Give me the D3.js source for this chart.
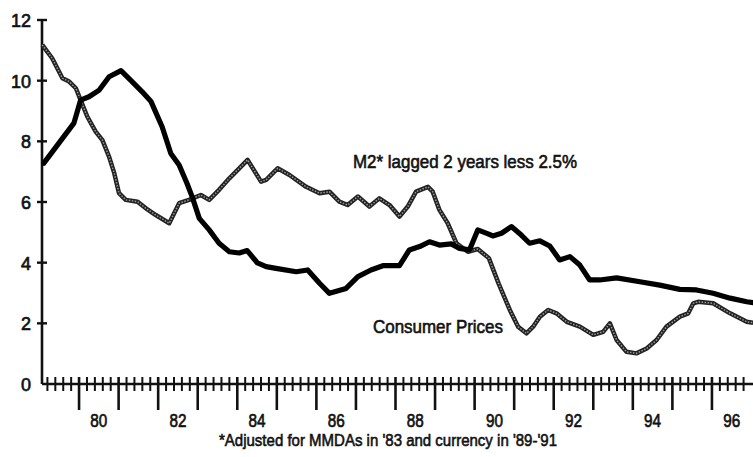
<!DOCTYPE html>
<html>
<head>
<meta charset="utf-8">
<script src="https://cdn.jsdelivr.net/npm/d3@7/dist/d3.min.js"></script>
<style>
body { margin:0; background:#fff; }
text { font-family:"Liberation Sans Narrow","Arial Narrow","Liberation Sans",sans-serif; fill:#111; }
</style>
</head>
<body>
<div id="chart"></div>
<script>
// values (decimal year, percent)
var cpiYears = [1979.11,1979.87,1980.04,1980.25,1980.51,1980.76,1981.06,1981.34,1981.59,1981.82,
    1982.10,1982.32,1982.53,1982.73,1982.86,1983.04,1983.29,1983.54,1983.80,1984.05,1984.25,1984.51,
    1984.73,1984.98,1985.49,1985.78,1986.08,1986.33,1986.75,1987.05,1987.38,1987.68,1988.10,1988.35,
    1988.61,1988.86,1989.11,1989.41,1989.62,1989.87,1990.08,1990.34,1990.46,1990.68,1990.93,1991.18,
    1991.39,1991.65,1991.90,1992.15,1992.41,1992.66,1992.91,1993.16,1993.59,1994.18,1994.68,1995.19,
    1995.61,1996.03,1996.46,1996.88,1997.04];
var cpiValues = [7.28,8.6,9.36,9.47,9.69,10.13,10.33,9.97,9.64,9.31,
    8.48,7.6,7.22,6.61,6.17,5.46,5.08,4.64,4.36,4.32,4.4,3.99,
    3.87,3.81,3.7,3.76,3.32,2.99,3.15,3.54,3.76,3.9,3.9,4.42,
    4.53,4.69,4.58,4.62,4.47,4.42,5.08,4.95,4.88,4.97,5.19,4.91,
    4.64,4.72,4.55,4.09,4.2,3.92,3.43,3.43,3.5,3.37,3.26,3.12,
    3.1,2.99,2.83,2.71,2.68];

var m2Years = [1979.07,1979.32,1979.58,1979.75,1979.92,1980.04,1980.21,1980.42,1980.59,1980.76,
    1980.89,1981.01,1981.18,1981.48,1981.69,1981.94,1982.28,1982.53,1982.78,1983.08,1983.29,1983.54,
    1983.80,1984.05,1984.26,1984.60,1984.73,1985.02,1985.32,1985.74,1986.08,1986.33,1986.58,1986.79,
    1987.05,1987.34,1987.59,1987.85,1988.10,1988.31,1988.52,1988.82,1988.94,1989.11,1989.32,1989.54,
    1989.83,1990.08,1990.36,1990.61,1990.89,1991.10,1991.31,1991.48,1991.65,1991.86,1992.07,1992.33,
    1992.66,1993.00,1993.25,1993.42,1993.59,1993.84,1994.09,1994.35,1994.60,1994.85,1995.19,1995.40,
    1995.53,1995.65,1996.03,1996.46,1996.88,1997.04];
var m2Values = [11.18,10.74,10.08,9.97,9.75,9.36,8.81,8.32,8.04,7.49,
    6.95,6.29,6.07,6.01,5.79,5.57,5.3,5.96,6.07,6.23,6.07,6.4,
    6.78,7.11,7.39,6.67,6.73,7.11,6.89,6.5,6.29,6.34,6.01,5.9,
    6.18,5.85,6.12,5.9,5.52,5.85,6.34,6.5,6.34,5.74,5.3,4.64,
    4.36,4.45,4.15,3.3,2.44,1.89,1.67,1.89,2.22,2.44,2.33,2.05,
    1.89,1.62,1.72,2.0,1.45,1.06,1.01,1.17,1.45,1.89,2.22,2.33,
    2.66,2.71,2.66,2.33,2.05,2.02];

var yTicks = [0,2,4,6,8,10,12];
var yearTicks = d3.range(1980, 1997);
var yearLabels = ['80','82','84','86','88','90','92','94','96'];

var W = 753, H = 457;
var svg = d3.select('#chart').append('svg').attr('width',W).attr('height',H);

var x = d3.scaleLinear().domain([1979,1997]).range([39.5,751.5]);
var y = d3.scaleLinear().domain([0,12]).range([384,20]);
var x0 = 42;

// y axis
svg.append('line').attr('x1',x0).attr('x2',x0).attr('y1',y(12)-1).attr('y2',y(0))
    .style('stroke','#111').style('stroke-width',2.6);
svg.selectAll('.yt').data(yTicks.filter(d=>d>0)).enter().append('line')
    .attr('x1',x0-5).attr('x2',x0+5).attr('y1',d=>y(d)).attr('y2',d=>y(d))
    .style('stroke','#111').style('stroke-width',2.4);
svg.selectAll('.yl').data(yTicks).enter().append('text')
    .attr('x',31).attr('y',d=>y(d)+7).attr('text-anchor','end')
    .attr('textLength',d=>String(d).length*10).attr('lengthAdjust','spacingAndGlyphs')
    .style('font-size','19px').style('stroke','#111').style('stroke-width',0.7)
    .text(d=>d);

// x axis
svg.append('line').attr('x1',x0).attr('x2',W).attr('y1',y(0)).attr('y2',y(0))
    .style('stroke','#111').style('stroke-width',2.6);
var minor = d3.range(1979.2, 1997.01, 0.2).filter(d=>Math.abs(d-Math.round(d))>0.05 && x(d)>x0+2);
svg.selectAll('.xm').data(minor).enter().append('line')
    .attr('x1',d=>x(d)).attr('x2',d=>x(d)).attr('y1',y(0)-7).attr('y2',y(0)+7)
    .style('stroke','#111').style('stroke-width',2);
svg.selectAll('.xM').data(yearTicks).enter().append('line')
    .attr('x1',d=>x(d)).attr('x2',d=>x(d)).attr('y1',y(0)-7).attr('y2',y(0)+26)
    .style('stroke','#111').style('stroke-width',2.6);
svg.selectAll('.xl').data(yearLabels).enter().append('text')
    .attr('x',d=>x(1900+(+d)+0.5)).attr('y',427).attr('text-anchor','middle')
    .attr('textLength',17).attr('lengthAdjust','spacingAndGlyphs')
    .style('font-size','19px').style('stroke','#111').style('stroke-width',0.7)
    .text(d=>d);

// lines
var line = d3.line().x(d=>x(d[0])).y(d=>y(d[1])).curve(d3.curveLinear);
var m2 = d3.zip(m2Years, m2Values);
var cpi = d3.zip(cpiYears, cpiValues);

svg.append('path').datum(m2).attr('d',line)
    .style('fill','none').style('stroke','#222').style('stroke-width',4.5).style('stroke-linejoin','round');
svg.append('path').datum(m2).attr('d',line)
    .style('fill','none').style('stroke','#999').style('stroke-width',1.5)
    .style('stroke-dasharray','1.5,1.5');
svg.append('path').datum(cpi).attr('d',line)
    .style('fill','none').style('stroke','#000').style('stroke-width',5.2)
    .style('stroke-linejoin','round').style('stroke-linecap','round');

// labels
function label(t, lx, ly, fs, len) {
    svg.append('text').attr('x',lx).attr('y',ly).style('font-size',fs+'px')
        .attr('textLength',len).attr('lengthAdjust','spacingAndGlyphs')
        .style('stroke','#111').style('stroke-width',0.6).text(t);
}
label('M2* lagged 2 years less 2.5%', 353, 168, 18, 224);
label('Consumer Prices', 373, 333, 18, 130);
label("*Adjusted for MMDAs in '83 and currency in '89-'91", 219, 446, 17, 338);
</script>
</body>
</html>
